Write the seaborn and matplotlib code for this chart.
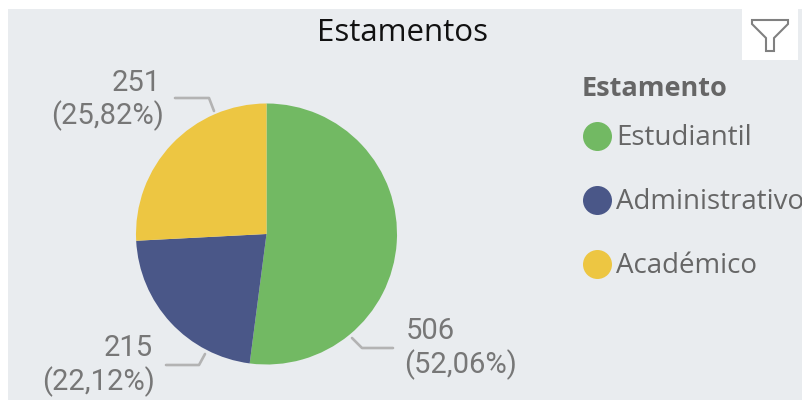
import matplotlib
matplotlib.use("Agg")
import matplotlib.pyplot as plt
from matplotlib.patches import Rectangle, Polygon
import seaborn as sns

# values
categories = ["Estudiantil", "Administrativo", "Académico"]
counts = [506, 215, 251]
percents = ["52,06%", "22,12%", "25,82%"]
colors = ["#72B963", "#4A5788", "#EDC642"]

W, H = 802, 400
BG = "#E9ECEF"
GREY = "#777777"

sns.set_theme(style="white")
plt.rcParams["font.family"] = ["Open Sans", "DejaVu Sans"]

fig = plt.figure(figsize=(W / 100, H / 100), dpi=100, facecolor="white")
ax = fig.add_axes([0, 0, 1, 1])
ax.set_xlim(0, W)
ax.set_ylim(H, 0)
ax.axis("off")

# grey panel and white filter button
ax.add_patch(Rectangle((8, 9), W - 8, H - 9, fc=BG, ec="none", zorder=0))
ax.add_patch(Rectangle((742, 9), 56, 51, fc="white", ec="none", zorder=1))
funnel = [(752, 20), (788, 20), (788, 24), (774, 38), (774, 51), (766, 51), (766, 38), (752, 24)]
ax.add_patch(Polygon(funnel, closed=True, fc="white", ec="#808080", lw=1.5, zorder=2))

# pie: the y axis is inverted, so counterclock runs clockwise on screen
wedges, _ = ax.pie(counts, colors=colors, startangle=-90, counterclock=True,
                   radius=130.5, center=(266.5, 234), frame=False,
                   wedgeprops={"linewidth": 0, "zorder": 3})
ax.set_xlim(0, W)
ax.set_ylim(H, 0)
ax.set_aspect("auto")

ax.text(402, 33, "Estamentos", ha="center", va="center", fontsize=22.5, color="#111111")

# data labels with leader lines
leaders = [
    ([352, 362, 393], [338, 348, 348]),
    ([205, 199, 166], [354, 365, 365]),
    ([214, 209, 175], [111, 98, 98]),
]
# x of count, x of percent, y of count, y of percent, alignment
label_pos = [
    (406, 404, 331, 365, "left"),
    (153, 155, 348, 382, "right"),
    (161, 164, 83, 116, "right"),
]
for c, p, (lx, ly), (x1, x2, y1, y2, ha) in zip(counts, percents, leaders, label_pos):
    ax.plot(lx, ly, color="#B3B3B3", lw=1.9, zorder=2)
    ax.text(x1, y1, str(c), ha=ha, va="center", fontsize=21, color=GREY, family="Roboto")
    ax.text(x2, y2, f"({p})", ha=ha, va="center", fontsize=21, color=GREY, family="Roboto")

# legend
ax.text(582, 89, "Estamento", ha="left", va="center", fontsize=19.5, fontweight="bold", color="#666666")
legend_y = [136, 200, 264]
for name, col, y in zip(categories, colors, legend_y):
    ax.scatter([596.5], [y], s=436, color=col, linewidths=0, zorder=3)
    ax.text(616, y + 2, name, ha="left", va="center", fontsize=20, color="#666666")

fig.savefig("out.png", dpi=100, facecolor="white")
